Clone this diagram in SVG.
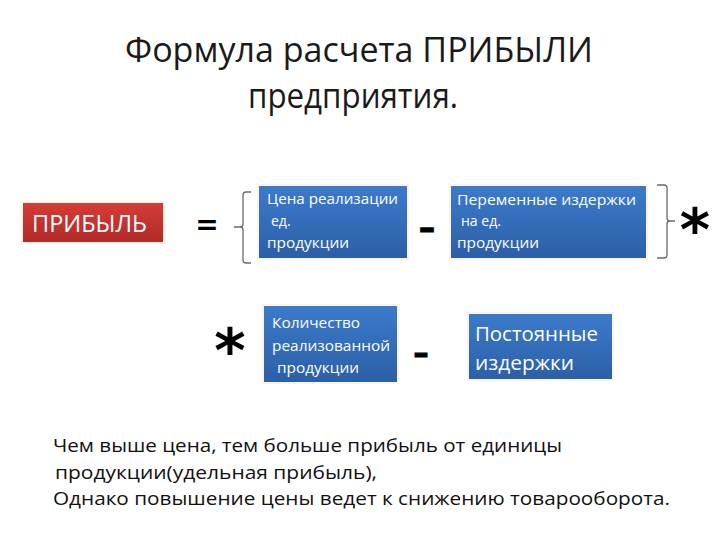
<svg xmlns="http://www.w3.org/2000/svg" width="720" height="540" viewBox="0 0 720 540">
<defs>
<linearGradient id="gRed" x1="0" y1="0" x2="0" y2="1">
<stop offset="0" stop-color="#d63c38"/>
<stop offset="1" stop-color="#b02a27"/>
</linearGradient>
<linearGradient id="gBlue" x1="0" y1="0" x2="0" y2="1">
<stop offset="0" stop-color="#3c7bcb"/>
<stop offset="1" stop-color="#2b5fa6"/>
</linearGradient>
<style>
.title{font-family:"Open Sans","Liberation Sans",sans-serif;font-size:35px;fill:#1a1a1a;text-anchor:middle}
.body{font-family:"Open Sans","Liberation Sans",sans-serif;font-size:18.5px;fill:#111}
.bt{font-family:"Open Sans","Liberation Sans",sans-serif;font-size:14px;fill:#fff}
.bt2{font-family:"Open Sans","Liberation Sans",sans-serif;font-size:20px;fill:#fff}
.op{font-family:"DejaVu Sans",sans-serif;font-weight:bold;fill:#000;text-anchor:middle}
.mn{stroke:#000;stroke-width:1.2}
.box{stroke:#fdf3e3;stroke-width:2}
.br{fill:none;stroke:#6b6b6b;stroke-width:1.3}
</style>
</defs>
<rect width="720" height="540" fill="#fff"/>
<g id="title">
<text class="title" x="359" y="62" textLength="468" lengthAdjust="spacingAndGlyphs">Формула расчета ПРИБЫЛИ</text>
<text class="title" x="353" y="108" textLength="210" lengthAdjust="spacingAndGlyphs">предприятия.</text>
</g>
<g id="profit">
<rect class="box" x="22" y="202" width="142" height="41" fill="url(#gRed)"/>
<text x="32" y="232" font-family="Open Sans, Liberation Sans, sans-serif" font-size="24" fill="#fff" textLength="115" lengthAdjust="spacingAndGlyphs">ПРИБЫЛЬ</text>
</g>
<g id="price">
<rect class="box" x="258" y="185" width="150" height="74" fill="url(#gBlue)"/>
<text class="bt" x="267" y="204" textLength="131" lengthAdjust="spacingAndGlyphs">Цена реализации</text>
<text class="bt" x="271" y="226">ед.</text>
<text class="bt" x="267" y="248" textLength="82" lengthAdjust="spacingAndGlyphs">продукции</text>
</g>
<g id="varcost">
<rect class="box" x="450" y="185" width="197" height="74" fill="url(#gBlue)"/>
<text class="bt" x="457" y="205" textLength="179" lengthAdjust="spacingAndGlyphs">Переменные издержки</text>
<text class="bt" x="461" y="226">на ед.</text>
<text class="bt" x="457" y="248" textLength="82" lengthAdjust="spacingAndGlyphs">продукции</text>
</g>
<g id="qty">
<rect class="box" x="263" y="305" width="135" height="78" fill="url(#gBlue)"/>
<text class="bt" x="272" y="328" textLength="88" lengthAdjust="spacingAndGlyphs">Количество</text>
<text class="bt" x="272" y="351" textLength="118" lengthAdjust="spacingAndGlyphs">реализованной</text>
<text class="bt" x="277" y="373" textLength="82" lengthAdjust="spacingAndGlyphs">продукции</text>
</g>
<g id="fixcost">
<rect class="box" x="468" y="313" width="145" height="67" fill="url(#gBlue)"/>
<text class="bt2" x="475" y="341" textLength="123" lengthAdjust="spacingAndGlyphs">Постоянные</text>
<text class="bt2" x="475" y="370" textLength="99" lengthAdjust="spacingAndGlyphs">издержки</text>
</g>
<g id="operators">
<text class="op" x="207" y="234" font-size="28">=</text>
<text class="op mn" x="427" y="239" font-size="32">–</text>
<text class="op mn" x="421" y="363" font-size="30">–</text>
<text class="op" x="695" y="250" font-size="58">*</text>
<text class="op" x="230" y="372" font-size="60">*</text>
</g>
<g id="connectors">
<path class="br" d="M251 192 H246 Q243 192 243 195 V224 Q243 227 240 227 H234 M240 227 Q243 227 243 230 V260 Q243 263 246 263 H251"/>
<path class="br" d="M657 185 H664 Q667 185 667 188 V218 Q667 221 670 221 H675 M670 221 Q667 221 667 224 V255 Q667 258 664 258 H657"/>
</g>
<g id="note">
<text class="body" x="53" y="452" textLength="509" lengthAdjust="spacingAndGlyphs">Чем выше цена, тем больше прибыль от единицы</text>
<text class="body" x="55" y="479" textLength="322" lengthAdjust="spacingAndGlyphs">продукции(удельная прибыль),</text>
<text class="body" x="53" y="505" textLength="617" lengthAdjust="spacingAndGlyphs">Однако повышение цены ведет к снижению товарооборота.</text>
</g>
</svg>
